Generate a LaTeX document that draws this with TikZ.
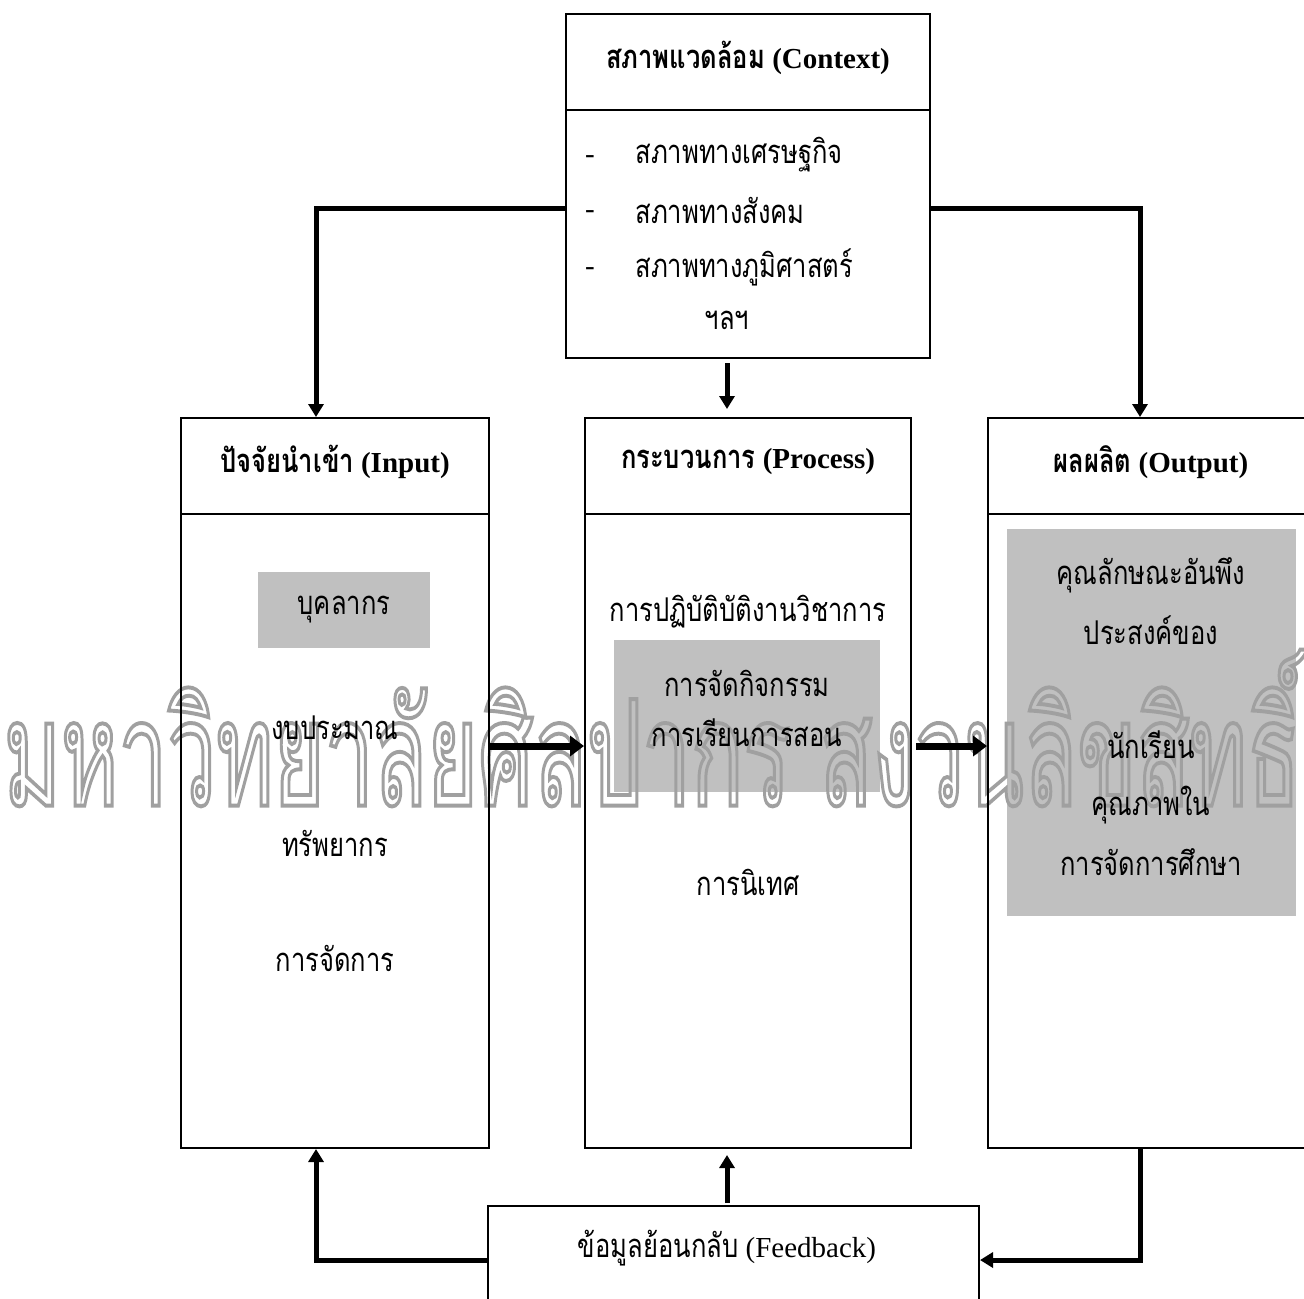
\documentclass[tikz,border=0pt]{standalone}
\usepackage{fontspec}
\setmainfont{Liberation Serif}
\newfontfamily\thaifont[Script=Thai,FakeStretch=0.78,Scale=1.13]{Loma}
\usetikzlibrary{arrows.meta,calc}
\newcommand\T[1]{{\thaifont #1}}
\definecolor{shade}{HTML}{C0C0C0}
\definecolor{wm}{HTML}{A0A0A0}
\tikzset{
  box/.style={draw=black,line width=1pt,fill=none,inner sep=0pt},
  graybox/.style={fill=shade,draw=none,inner sep=0pt},
  hdr/.style={font=\fontsize{14.5}{16}\selectfont\bfseries,inner sep=0pt},
  txt/.style={font=\fontsize{14.5}{16}\selectfont,inner sep=0pt},
  arr/.style={line width=2.5pt,-{Triangle[length=6.5pt,width=7.5pt]}},
  harr/.style={line width=3.5pt,-{Triangle[length=7pt,width=10pt]}}
}
\begin{document}
\begin{tikzpicture}[x=0.5pt,y=-0.5pt]
\useasboundingbox (0,0) rectangle (1304,1298);
% gray areas
\node[graybox,minimum width=86pt,minimum height=38pt] (g1) at (344,610) {};
\node[graybox,minimum width=133pt,minimum height=76pt] (g2) at (747,716) {};
\node[graybox,minimum width=144.5pt,minimum height=193.5pt] (g3) at (1151.5,722.5) {};
% watermark (outlined text)
\node[inner sep=0pt] (wmk) at (652,728) {\resizebox{648pt}{78pt}{\color{wm}\special{pdf:literal direct 1 Tr 0.3 w}\thaifont มหาวิทยาลัยศิลปากร สงวนลิขสิทธิ์\special{pdf:literal direct 0 Tr}}};
% boxes
\node[box,minimum width=182pt,minimum height=172pt] (ctx) at (748,186) {};
\node[box,minimum width=154pt,minimum height=365pt] (inp) at (335,783) {};
\node[box,minimum width=163pt,minimum height=365pt] (proc) at (748,783) {};
\node[box,minimum width=164pt,minimum height=365pt] (out) at (1152,783) {};
\node[box,minimum width=245.5pt,minimum height=54pt] (fb) at (733.5,1260) {};
% header dividers
\draw[line width=1pt] (ctx.west |- 0,110) -- (ctx.east |- 0,110);
\draw[line width=1pt] (inp.west |- 0,514) -- (inp.east |- 0,514);
\draw[line width=1pt] (proc.west |- 0,514) -- (proc.east |- 0,514);
\draw[line width=1pt] (out.west |- 0,514) -- (out.east |- 0,514);
% texts
\node[hdr] (ctxh) at (748,58) {\T{สภาพแวดล้อม} (Context)};
\node[txt] (d1) at (590,160) {-};
\node[txt] (d2) at (590,215) {-};
\node[txt] (d3) at (590,272) {-};
\node[txt,anchor=west] (c1) at (635,155) {\T{สภาพทางเศรษฐกิจ}};
\node[txt,anchor=west] (c2) at (635,210) {\T{สภาพทางสังคม}};
\node[txt,anchor=west] (c3) at (635,267) {\T{สภาพทางภูมิศาสตร์}};
\node[txt] (c4) at (727,320) {\T{ฯลฯ}};
\node[hdr] (inh) at (335,462) {\T{ปัจจัยนำเข้า} (Input)};
\node[txt] (i1) at (344,610) {\T{บุคลากร}};
\node[txt] (i2) at (335,728) {\T{งบประมาณ}};
\node[txt] (i3) at (335,843) {\T{ทรัพยากร}};
\node[txt] (i4) at (335,958) {\T{การจัดการ}};
\node[hdr] (prh) at (748,462) {\T{กระบวนการ} (Process)};
\node[txt] (p1) at (748,612) {\T{การปฏิบัติบัติงานวิชาการ}};
\node[txt] (p2) at (747,683) {\T{การจัดกิจกรรม}};
\node[txt] (p3) at (747,733) {\T{การเรียนการสอน}};
\node[txt] (p4) at (748,882) {\T{การนิเทศ}};
\node[hdr] (ouh) at (1151,462) {\T{ผลผลิต} (Output)};
\node[txt] (o1) at (1151,575) {\T{คุณลักษณะอันพึง}};
\node[txt] (o2) at (1151,630) {\T{ประสงค์ของ}};
\node[txt] (o3) at (1151,745) {\T{นักเรียน}};
\node[txt] (o4) at (1151,805) {\T{คุณภาพใน}};
\node[txt] (o5) at (1151,862) {\T{การจัดการศึกษา}};
\node[txt] (fbt) at (727,1248) {\T{ข้อมูลย้อนกลับ} (Feedback)};
% connectors
\coordinate (fbup) at ([xshift=-3.25pt]fb.north);
\draw[arr] ([yshift=-11pt]ctx.west) -| ([xshift=-9.5pt]inp.north);
\draw[arr] ([yshift=-11pt]ctx.east) -| ([xshift=-6pt]out.north);
\draw[arr,shorten <=2pt,shorten >=4pt] ([xshift=-10.5pt]ctx.south) -- ([xshift=-10.5pt]proc.north);
\draw[harr] ([yshift=18.5pt]inp.east) -- ([yshift=18.5pt]proc.west);
\draw[harr,shorten <=2pt] ([yshift=18.5pt]proc.east) -- ([yshift=18.5pt]out.west);
\draw[arr] ([xshift=-6pt]out.south) |- (fb.east);
\draw[arr] (fb.west) -| ([xshift=-9.5pt]inp.south);
\draw[arr,shorten <=1pt,shorten >=3pt] (fbup) -- (fbup |- proc.south);
\end{tikzpicture}
\end{document}
